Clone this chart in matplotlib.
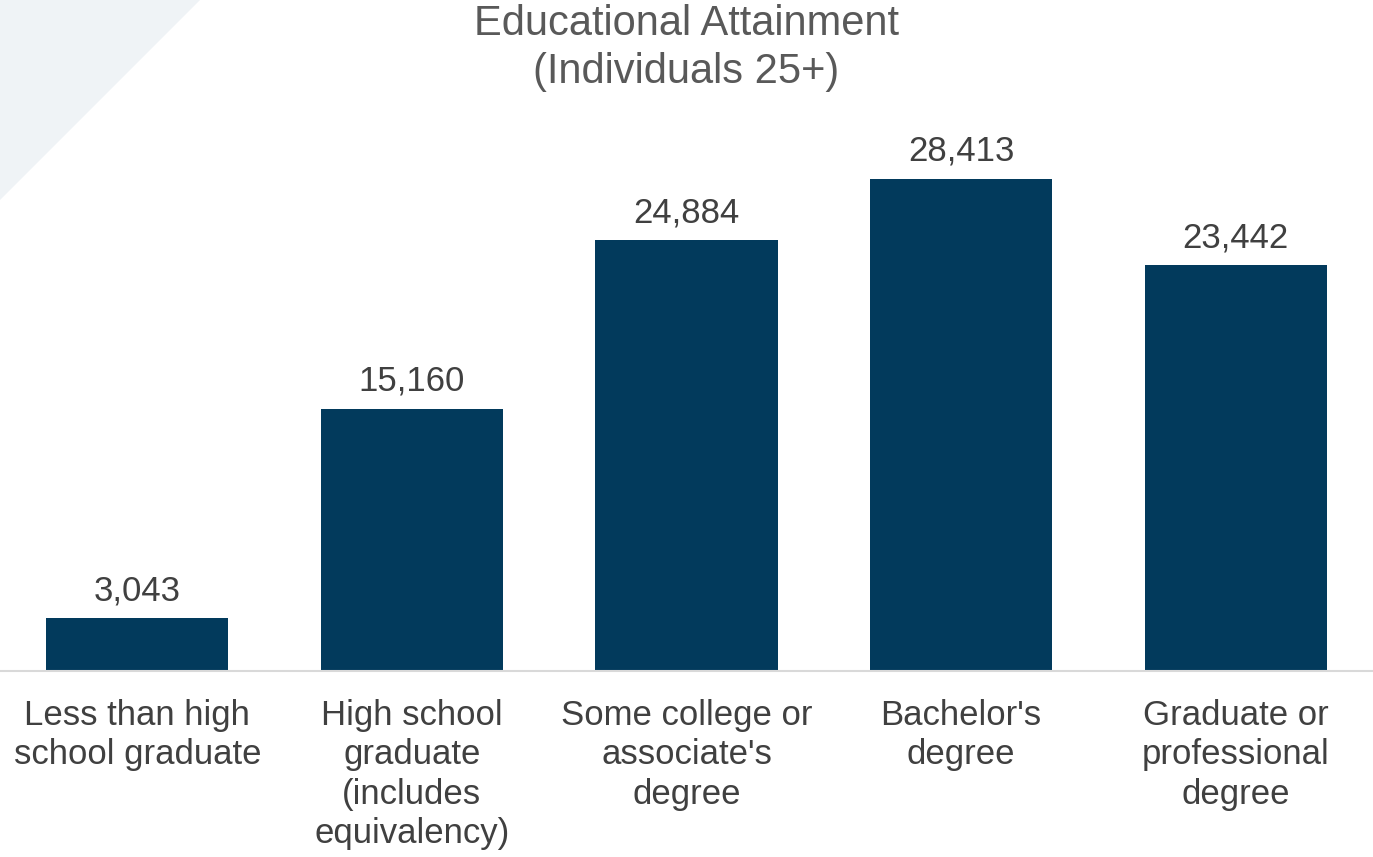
import matplotlib.pyplot as plt
from matplotlib.patches import Polygon

plt.rcParams['font.family'] = ['Liberation Sans', 'DejaVu Sans']

categories = [
    "Less than high\nschool graduate",
    "High school\ngraduate\n(includes\nequivalency)",
    "Some college or\nassociate's\ndegree",
    "Bachelor's\ndegree",
    "Graduate or\nprofessional\ndegree",
]
counts = [3043, 15160, 24884, 28413, 23442]

fig = plt.figure(figsize=(13.73, 8.57), dpi=100)

# light corner accent
fig.patches.append(Polygon([(0, 1), (200 / 1373, 1), (0, 1 - 200 / 857)],
                           closed=True, transform=fig.transFigure,
                           facecolor='#eff3f6', edgecolor='none', zorder=0))

ax = fig.add_axes([0, 186 / 857, 1, (671 - 117) / 857])
ax.patch.set_alpha(0)
bars = ax.bar(range(len(counts)), counts, width=0.663, color='#023a5c')
ax.set_xlim(-0.5, len(counts) - 0.5)
ax.set_ylim(0, 32000)

for b, v in zip(bars, counts):
    ax.annotate(f"{v:,}", (b.get_x() + b.get_width() / 2, v),
                xytext=(0, 8), textcoords='offset points',
                ha='center', va='bottom', fontsize=25, color='#404040')

ax.set_xticks(range(len(counts)))
ax.set_xticklabels(categories, fontsize=25, color='#404040', linespacing=1.25)
ax.tick_params(axis='x', length=0, pad=20)
ax.set_yticks([])
for s in ['top', 'right', 'left']:
    ax.spines[s].set_visible(False)
ax.spines['bottom'].set_color('#d9d9d9')
ax.spines['bottom'].set_linewidth(1.5)

fig.text(0.5, 1 - 48 / 857, "Educational Attainment\n(Individuals 25+)",
         ha='center', va='center', fontsize=30, color='#595959', linespacing=1.28)

fig.savefig('out.png', dpi=100)
